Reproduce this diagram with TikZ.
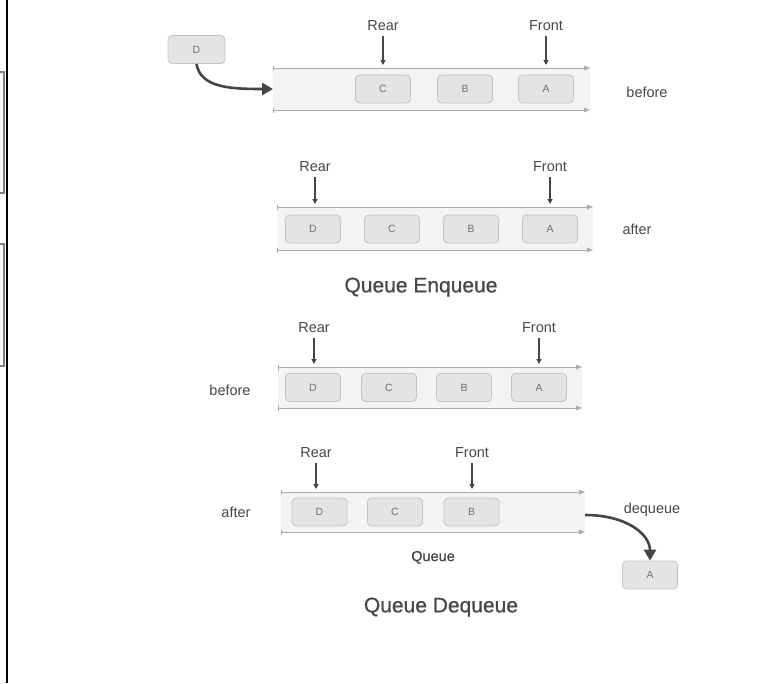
\documentclass[tikz,border=0pt]{standalone}
\usepackage{fontspec}
\setmainfont{Liberation Sans}
\newfontfamily\medfont[FakeBold=0.8]{Liberation Sans}
\usetikzlibrary{arrows.meta}
\definecolor{txtc}{HTML}{484848}
\definecolor{boxfillc}{HTML}{E4E4E4}
\definecolor{boxdrawc}{HTML}{C4C4C4}
\definecolor{boxtxtc}{HTML}{707070}
\definecolor{bandc}{HTML}{F3F3F3}
\definecolor{railc}{HTML}{ABABAB}
\definecolor{ptrc}{HTML}{454545}
\begin{document}
\begin{tikzpicture}[x=1pt,y=-1pt,
 item/.style={draw=boxdrawc, fill=boxfillc, rounded corners=4pt, minimum width=55pt, minimum height=28pt, inner sep=0pt, font=\fontsize{10.5}{10.5}\selectfont, text=boxtxtc, line width=0.8pt},
 lbl/.style={inner sep=0pt, text depth=0pt, font=\fontsize{14.5}{14.5}\selectfont, text=txtc},
 ttl/.style={inner sep=0pt, text depth=0pt, font=\medfont\fontsize{21}{21}\selectfont, text=txtc},
 bandnode/.style={fill=bandc, inner sep=0pt, outer sep=0pt},
 ptr/.style={draw=ptrc, line width=1.1pt, -{Triangle[length=5pt,width=5pt]}, shorten <=5pt, shorten >=3pt},
 railline/.style={draw=railc, line width=1pt, {Bar[width=5pt]}-{Triangle[length=6pt,width=4.5pt]}},
 curvy/.style={draw=ptrc, line width=2.6pt, -{Triangle[length=11pt,width=12pt]}}
]
\useasboundingbox (0,0) rectangle (757,683);
\fill[white] (0,0) rectangle (757,683);
% left frame remnants
\draw[line width=2.5pt] (7,0) -- (7,683);
\draw[gray, line width=1.3pt] (0,72) -- (4,72) -- (4,193) -- (0,193);
\draw[gray, line width=1.3pt] (0,244) -- (4,244) -- (4,366) -- (0,366);

% ---------- Section 1: enqueue before ----------
\node[bandnode, minimum width=317pt, minimum height=42pt] (q1) at (431.5,89) {};
\draw[railline] (q1.north west) -- (q1.north east);
\draw[railline] (q1.south west) -- (q1.south east);
\node[item] (c1) at (383,89) {C};
\node[item] (b1) at (465,89) {B};
\node[item] (a1) at (546,89) {A};
\node[item, minimum width=57pt] (d0) at (196.5,49.5) {D};
\node[lbl] (rear1) at (383,26) {Rear};
\node[lbl] (front1) at (546,26) {Front};
\node[lbl] (before1) at (647,92) {before};
\draw[ptr] (rear1) -- (rear1 |- q1.north);
\draw[ptr] (front1) -- (front1 |- q1.north);
\draw[curvy] (d0.south) .. controls +(4,24) and +(-42,0) .. (q1.west);

% ---------- Section 2: enqueue after ----------
\node[bandnode, minimum width=316pt, minimum height=43pt] (q2) at (435,228.5) {};
\draw[railline] (q2.north west) -- (q2.north east);
\draw[railline] (q2.south west) -- (q2.south east);
\node[item] (d2) at (313,229) {D};
\node[item] (c2) at (392,229) {C};
\node[item] (b2) at (471,229) {B};
\node[item] (a2) at (550,229) {A};
\node[lbl] (rear2) at (315,167) {Rear};
\node[lbl] (front2) at (550,167) {Front};
\node[lbl] (after2) at (637,229) {after};
\draw[ptr] (rear2) -- (rear2 |- q2.north);
\draw[ptr] (front2) -- (front2 |- q2.north);
\node[ttl] (enq) at (421,285) {Queue Enqueue};

% ---------- Section 3: dequeue before ----------
\node[bandnode, minimum width=304pt, minimum height=41pt] (q3) at (430,387.5) {};
\draw[railline] (q3.north west) -- (q3.north east);
\draw[railline] (q3.south west) -- (q3.south east);
\node[item] (d3) at (313,387.5) {D};
\node[item] (c3) at (389,387.5) {C};
\node[item] (b3) at (464,387.5) {B};
\node[item] (a3) at (539,387.5) {A};
\node[lbl] (rear3) at (314,327.5) {Rear};
\node[lbl] (front3) at (539,327.5) {Front};
\node[lbl] (before3) at (230,390) {before};
\draw[ptr] (rear3) -- (rear3 |- q3.north);
\draw[ptr] (front3) -- (front3 |- q3.north);

% ---------- Section 4: dequeue after ----------
\node[bandnode, minimum width=304pt, minimum height=40pt] (q4) at (433,512) {};
\draw[railline] (q4.north west) -- (q4.north east);
\draw[railline] (q4.south west) -- (q4.south east);
\node[item] (d4) at (319.5,512) {D};
\node[item] (c4) at (395,512) {C};
\node[item] (b4) at (471.5,512) {B};
\node[item] (a4) at (650,575) {A};
\node[lbl] (rear4) at (316,453) {Rear};
\node[lbl] (front4) at (472,453) {Front};
\node[lbl] (after4) at (236,512) {after};
\node[lbl, font=\medfont\fontsize{14.5}{14.5}\selectfont] (queue4) at (433,556) {Queue};
\node[lbl] (deq) at (652,508) {dequeue};
\draw[ptr] (rear4) -- (rear4 |- q4.north);
\draw[ptr] (front4) -- (front4 |- q4.north);
\draw[curvy] ([yshift=-3pt]q4.east) .. controls +(42,0) and +(0,-26) .. (a4.north);
\node[ttl] (deqt) at (441,605) {Queue Dequeue};
\end{tikzpicture}
\end{document}
